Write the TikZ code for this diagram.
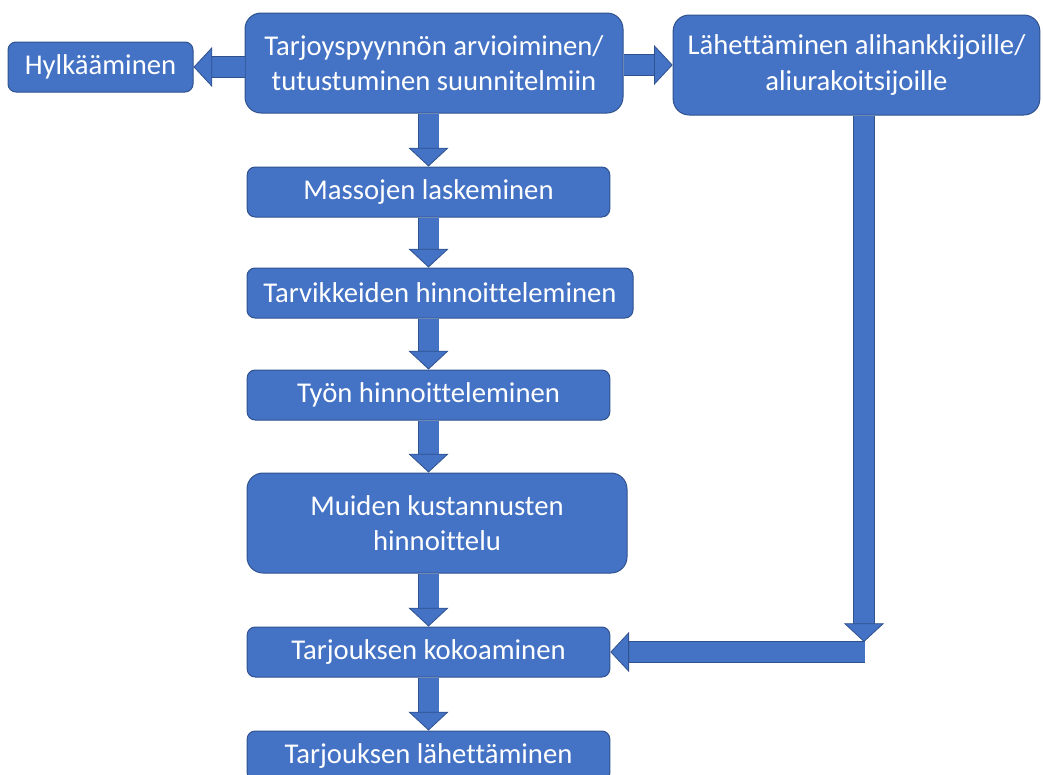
\documentclass[tikz,border=0pt]{standalone}
\usepackage{fontspec}
\setmainfont{Carlito}[Ligatures=NoCommon]
\usepackage{tikz}
\usetikzlibrary{arrows.meta,calc}
\definecolor{boxblue}{HTML}{4472C4}
\definecolor{edgeblue}{HTML}{2F528F}

\begin{document}
\begin{tikzpicture}[x=0.75pt, y=-0.75pt]
	\tikzset{vaihe/.style={draw=edgeblue, fill=boxblue, line width=0.75pt, rounded corners=6pt, text=white, align=center, font=\fontsize{21.5}{26.5}\selectfont, minimum height=37.5pt, inner sep=0pt}}
	\tikzset{iso/.style={minimum height=75pt, rounded corners=12pt}}
	\tikzset{nuoli/.style={draw=boxblue, line width=15pt, -{Triangle[length=14pt, width=30pt, line width=0.6pt, fill=boxblue, color=edgeblue]}, preaction={draw=edgeblue, line width=16.2pt, -, shorten >=13pt}}}
	
	\useasboundingbox (0,0) rectangle (1043,775);
	
	\node[vaihe, minimum width=138.75pt] (hylk) at (100.5,67) {Hylkääminen};
	\node[vaihe, iso, minimum width=283.5pt] (arvio) at (434,63) {Tarjoyspyynnön arvioiminen/\\tutustuminen suunnitelmiin};
	\node[vaihe, iso, minimum width=275pt] (lahet) at (856.5,65) {Lähettäminen alihankkijoille/\\aliurakoitsijoille};
	\node[vaihe, minimum width=272pt] (massat) at (428.5,192) {Massojen laskeminen};
	\node[vaihe, minimum width=289.5pt] (tarvik) at (440,293) {Tarvikkeiden hinnoitteleminen};
	\node[vaihe, minimum width=272pt] (tyo) at (428.5,395) {Työn hinnoitteleminen};
	\node[vaihe, iso, minimum width=285pt] (muut) at (437,523) {Muiden kustannusten\\hinnoittelu};
	\node[vaihe, minimum width=272pt] (koko) at (428.5,652) {Tarjouksen kokoaminen};
	\node[vaihe, minimum width=272pt] (lahetys) at (428.5,756) {Tarjouksen lähettäminen};
	
	\draw[nuoli] (arvio.west |- hylk.east) -- (hylk.east);
	\draw[nuoli] (arvio.east |- lahet.west) -- (lahet.west);
	\draw[nuoli] (arvio.south -| massat.north) -- (massat.north);
	\draw[nuoli] (massat.south) -- (tarvik.north -| massat.south);
	\draw[nuoli] (tarvik.south -| tyo.north) -- (tyo.north);
	\draw[nuoli] (tyo.south) -- (muut.north -| tyo.south);
	\draw[nuoli] (muut.south -| koko.north) -- (koko.north);
	\draw[nuoli] (koko.south) -- (lahetys.north);
	
	% alihankkijoilta takaisin kokoamiseen
	\coordinate (alas) at ($(lahet.south)+(7.5,0)$);
	\coordinate (kulma) at (alas |- koko.east);
	\draw[nuoli] (alas) -- ($(kulma)+(0,-10)$);
	\draw[nuoli] ($(kulma)+(1,0)$) -- (koko.east);
	
\end{tikzpicture}
\end{document}
